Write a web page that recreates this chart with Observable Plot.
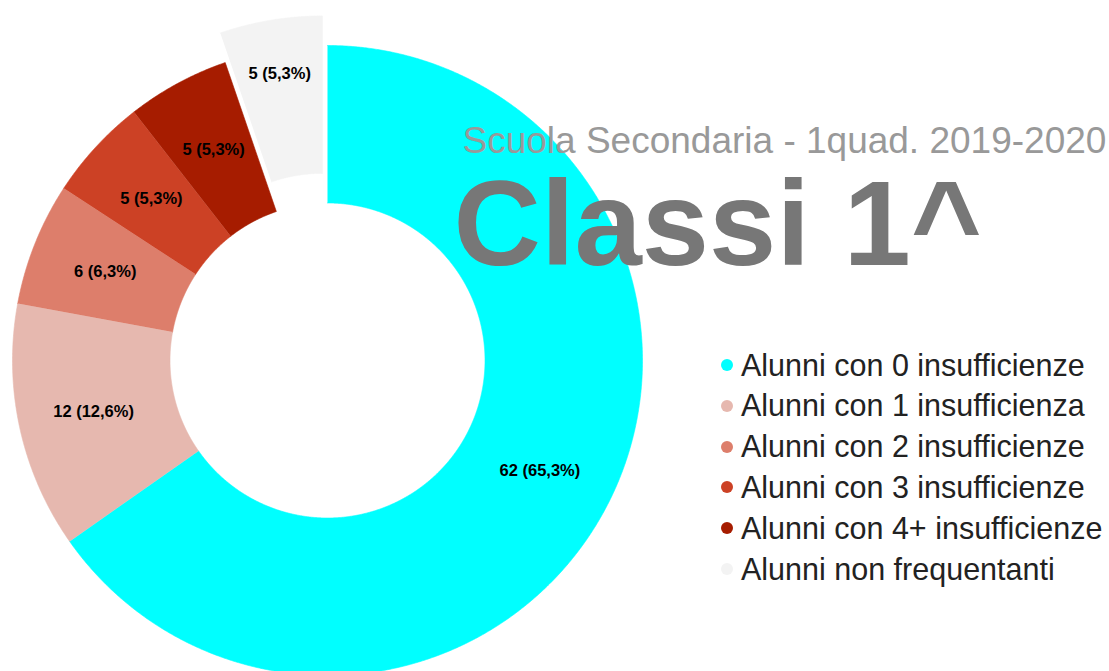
<!DOCTYPE html>
<html>
<head>
<meta charset="utf-8">
<script src="https://cdn.jsdelivr.net/npm/d3@7"></script>
<script src="https://cdn.jsdelivr.net/npm/@observablehq/plot@0.6"></script>
<style>
  html, body { margin: 0; padding: 0; background: #fff; }
  #wrap { position: relative; width: 1109px; height: 671px; overflow: hidden; font-family: "Liberation Sans", Arial, sans-serif; }
  #wrap svg { display: block; }
  #legend { position: absolute; left: 721px; top: 344.6px; }
  .row { display: flex; align-items: center; height: 40.8px; line-height: 40.8px; font-size: 30.5px; color: #222; white-space: nowrap; }
  .dot { width: 12px; height: 12px; border-radius: 50%; margin-right: 8px; flex: none; }
</style>
</head>
<body>
<div id="wrap"><div id="legend"></div></div>
<script>
// ---- data ----
const categories = [
  "Alunni con 0 insufficienze",
  "Alunni con 1 insufficienza",
  "Alunni con 2 insufficienze",
  "Alunni con 3 insufficienze",
  "Alunni con 4+ insufficienze",
  "Alunni non frequentanti"
];
const counts = [62, 12, 6, 5, 5, 5];
const colors = ["#00FFFF", "#E6B8AF", "#DD7E6B", "#CC4125", "#A61C00", "#F3F3F3"];
const explodedSlice = [false, false, false, false, false, true];
const subtitle = "Scuola Secondaria - 1quad. 2019-2020";
const title = "Classi 1^";

// ---- layout ----
const W = 1109, H = 671;
const cx = 327, cy = 360, R = 315;       // pixels
const inner = 0.5;                        // inner radius / outer radius
const explode = 30 / R;
const labelR = 0.76;

const total = d3.sum(counts);
const table = categories.map((c, i) => ({cat: c, count: counts[i], exploded: explodedSlice[i]}));
const arcs = d3.pie().sort(null).value(d => d.count)(table);

const pts = [];
const labels = [];
for (const a of arcs) {
  const mid = (a.startAngle + a.endAngle) / 2;
  const off = a.data.exploded ? explode : 0;
  const ox = off * Math.sin(mid), oy = off * Math.cos(mid);
  const n = Math.max(8, Math.ceil((a.endAngle - a.startAngle) / (Math.PI / 720)));
  for (let k = 0; k <= n; k++) {
    const t = a.startAngle + (a.endAngle - a.startAngle) * k / n;
    pts.push({cat: a.data.cat, x: ox + Math.sin(t), y: oy + Math.cos(t)});
  }
  for (let k = n; k >= 0; k--) {
    const t = a.startAngle + (a.endAngle - a.startAngle) * k / n;
    pts.push({cat: a.data.cat, x: ox + inner * Math.sin(t), y: oy + inner * Math.cos(t)});
  }
  const lo = a.data.exploded ? off * 1.7 : 0;
  const pct = (a.data.count / total * 100).toFixed(1).replace(".", ",");
  labels.push({
    x: (labelR + lo) * Math.sin(mid),
    y: (labelR + lo) * Math.cos(mid),
    text: `${a.data.count} (${pct}%)`
  });
}

const plot = Plot.plot({
  width: W, height: H,
  margin: 0,
  style: {background: "#fff", fontFamily: "'Liberation Sans', Arial, sans-serif"},
  x: {domain: [-cx / R, (W - cx) / R], axis: null},
  y: {domain: [-(H - cy) / R, cy / R], axis: null},
  color: {domain: categories, range: colors},
  marks: [
    Plot.line(pts, {x: "x", y: "y", z: "cat", fill: "cat", stroke: "cat", strokeWidth: 0.6, curve: "linear"}),
    Plot.text(labels, {x: "x", y: "y", text: "text", fontSize: 16.5, fontWeight: "bold", fill: "#000"}),
    Plot.text([subtitle], {frameAnchor: "top-left", dx: 462, dy: 126.5, text: d => d, textAnchor: "start", lineAnchor: "top", fontSize: 37, fill: "#999999"}),
    Plot.text([title], {frameAnchor: "top-left", dx: 453, dy: 179, text: d => d, textAnchor: "start", lineAnchor: "top", fontSize: 121, fontWeight: "bold", fill: "#777777"})
  ]
});
document.getElementById("wrap").prepend(plot);

const legend = document.getElementById("legend");
categories.forEach((c, i) => {
  const row = document.createElement("div");
  row.className = "row";
  const dot = document.createElement("span");
  dot.className = "dot";
  dot.style.background = colors[i];
  const txt = document.createElement("span");
  txt.textContent = c;
  row.append(dot, txt);
  legend.append(row);
});
</script>
</body>
</html>
